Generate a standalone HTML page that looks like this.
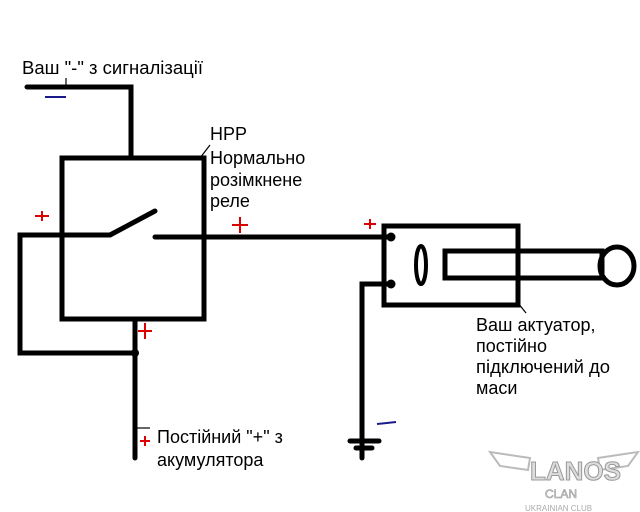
<!DOCTYPE html>
<html><head><meta charset="utf-8"><style>
html,body{margin:0;padding:0;background:#fff;}
svg{display:block;}
text{font-family:"Liberation Sans",sans-serif;font-size:18px;fill:#000;}
</style></head><body>
<svg width="640" height="512" viewBox="0 0 640 512" xmlns="http://www.w3.org/2000/svg">
<g stroke="#000" stroke-width="5" fill="none" stroke-linecap="round">
<polyline points="27,87 131,87 131,158"/>
<rect x="62" y="158" width="142" height="161"/>
<polyline points="110,235 20,235 20,353 135,353"/>
<line x1="110" y1="235" x2="155" y2="211"/>
<line x1="135" y1="319" x2="135" y2="458"/>
<line x1="155" y1="237" x2="390" y2="237"/>
<rect x="384" y="226" width="134" height="79"/>
<ellipse cx="421" cy="265" rx="5" ry="19" stroke-width="4"/>
<rect x="445" y="251" width="157" height="27" stroke-width="5"/>
<ellipse cx="617" cy="266" rx="17" ry="19"/>
<polyline points="390,284 362,284 362,458"/>
<line x1="350" y1="441" x2="379" y2="441"/>
<line x1="356" y1="448" x2="372" y2="448"/>
</g>
<g fill="#000">
<circle cx="135" cy="353" r="4"/>
<circle cx="391" cy="237" r="4.5"/>
<circle cx="391" cy="284" r="4.5"/>
</g>
<g stroke="#000" stroke-width="1.2" fill="none">
<line x1="66" y1="78" x2="66" y2="87"/>
<line x1="200" y1="158" x2="210" y2="145"/>
<line x1="518" y1="303" x2="526" y2="313"/>
<polyline points="137,428 150,428"/>
</g>
<g stroke="#d00" stroke-width="2" fill="none">
<line x1="35" y1="216" x2="49" y2="216"/><line x1="42" y1="211" x2="42" y2="221"/>
<line x1="232" y1="225" x2="248" y2="225"/><line x1="240" y1="217" x2="240" y2="233"/>
<line x1="138" y1="331" x2="152" y2="331"/><line x1="145" y1="323" x2="145" y2="339"/>
<line x1="364" y1="224" x2="376" y2="224"/><line x1="370" y1="219" x2="370" y2="229"/>
<line x1="140" y1="441" x2="150" y2="441"/><line x1="145" y1="436" x2="145" y2="446"/>
</g>
<g stroke="#1a1a8a" stroke-width="2">
<line x1="45" y1="97" x2="66" y2="97"/>
<line x1="377" y1="424" x2="396" y2="422"/>
</g>
<text x="22" y="74" textLength="181" lengthAdjust="spacingAndGlyphs">Ваш "-" з сигналізації</text>
<text x="210" y="140">НРР</text>
<text x="210" y="164">Нормально</text>
<text x="210" y="186">розімкнене</text>
<text x="210" y="207">реле</text>
<text x="476" y="331">Ваш актуатор,</text>
<text x="476" y="352">постійно</text>
<text x="476" y="373" textLength="134" lengthAdjust="spacingAndGlyphs">підключений до</text>
<text x="476" y="394">маси</text>
<text x="157" y="443">Постійний "+" з</text>
<text x="157" y="466">акумулятора</text>
<g fill="none" stroke="#bbb" stroke-width="2">
<path d="M490 452 L530 458 L528 470 L500 466 Z"/>
<path d="M638 452 L598 458 L600 470 L628 466 Z"/>
</g>
<text x="530" y="480" style="font-size:26px;font-weight:bold;fill:#ddd;stroke:#999;stroke-width:1">LANOS</text>
<text x="545" y="498" style="font-size:12px;fill:#ddd;stroke:#999;stroke-width:0.6">CLAN</text>
<text x="525" y="511" style="font-size:8px;fill:#aaa">UKRAINIAN CLUB</text>
</svg>
</body></html>
